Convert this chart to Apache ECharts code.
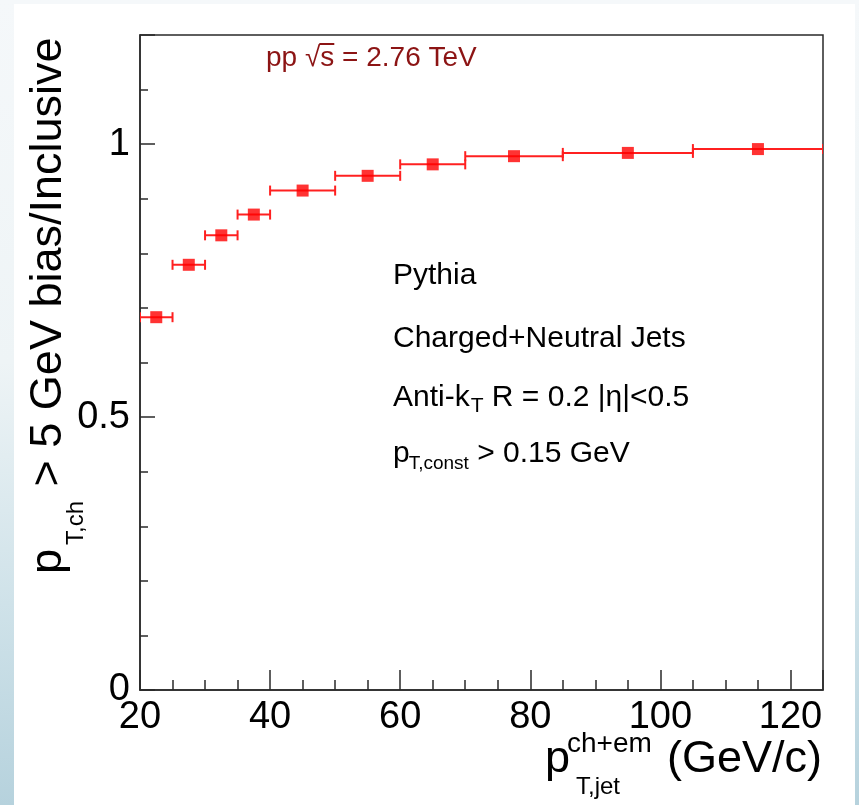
<!DOCTYPE html>
<html>
<head>
<meta charset="utf-8">
<script src="https://cdn.jsdelivr.net/npm/echarts@6/dist/echarts.min.js"></script>
<style>
  html, body { margin: 0; padding: 0; }
  body {
    width: 859px; height: 805px; overflow: hidden; position: relative;
    background: linear-gradient(180deg, #f5f8fa 0%, #eef4f6 45%, #cfe2e9 75%, #b6d2dd 100%);
  }
  #panel { position: absolute; left: 14px; top: 4px; width: 841px; height: 801px; background: #ffffff; }
  #chart { position: absolute; left: 0; top: 0; width: 859px; height: 805px; }
</style>
</head>
<body>
<div id="panel"></div>
<div id="chart"></div>
<script>
// Ratio of jets with a charged-track bias (pT,ch > 5 GeV) to inclusive jets, per jet-pT bin
const binLow    = [20, 25, 30, 35, 40, 50, 60, 70, 85, 105];
const binHigh   = [25, 30, 35, 40, 50, 60, 70, 85, 105, 125];
const binCenter = [22.5, 27.5, 32.5, 37.5, 45, 55, 65, 77.5, 95, 115];
const ratio     = [0.683, 0.779, 0.833, 0.871, 0.915, 0.942, 0.963, 0.978, 0.984, 0.991];

const xTicks = [20, 40, 60, 80, 100, 120];
const yTicks = [0, 0.5, 1];

const FONT = '"Liberation Sans", Arial, Helvetica, sans-serif';
const measureCtx = document.createElement('canvas').getContext('2d');
function textWidth(str, size) {
  measureCtx.font = size + 'px ' + FONT;
  return measureCtx.measureText(str).width;
}
// offset between the canvas "middle" line and the alphabetic baseline, as a fraction of size
const MID = 0.30;
function textAt(str, size, x, baseline, fill) {
  return {
    type: 'text', x: x, y: baseline - MID * size, silent: true,
    style: { text: str, font: size + 'px ' + FONT, fill: fill || '#000', align: 'left', verticalAlign: 'middle' }
  };
}

// Annotation block inside the frame
const annot = [];
const LS = 30;
annot.push(textAt('Pythia', LS, 393, 285));
annot.push(textAt('Charged+Neutral Jets', LS, 393, 348));
(function () {
  let x = 393;
  annot.push(textAt('Anti-k', LS, x, 407)); x += textWidth('Anti-k', LS) + 1;
  annot.push(textAt('T', 21, x, 413)); x += textWidth('T', 21);
  annot.push(textAt(' R = 0.2 |η|<0.5', LS, x, 407));
})();
(function () {
  let x = 393;
  annot.push(textAt('p', LS, x, 463)); x += textWidth('p', LS) - 1;
  annot.push(textAt('T,const', 19, x, 469)); x += textWidth('T,const', 19);
  annot.push(textAt(' > 0.15 GeV', LS, x, 463));
})();

// Collision system label with a bar over "s"
(function () {
  const size = 28, x0 = 266, base = 67, col = '#8c1414';
  annot.push(textAt('pp √s = 2.76 TeV', size, x0, base, col));
  const sx = x0 + textWidth('pp √', size);
  const sw = textWidth('s', size);
  annot.push({ type: 'line', silent: true,
    shape: { x1: sx - 1, y1: base - 23, x2: sx + sw, y2: base - 23 },
    style: { stroke: col, lineWidth: 2 } });
})();

// X-axis title: p^{ch+em}_{T,jet} (GeV/c)
annot.push(textAt('p', 45, 545, 773));
annot.push(textAt('ch+em', 28, 567, 753));
annot.push(textAt('T,jet', 24, 576, 795));
annot.push(textAt('(GeV/c)', 45, 822 - textWidth('(GeV/c)', 45), 773));

// Y-axis title, read bottom-to-top: p_{T,ch} > 5 GeV bias/Inclusive
(function () {
  const kids = [];
  let x = 0;
  kids.push(textAt('p', 45, x, 0)); x += textWidth('p', 45) + 4;
  kids.push(textAt('T,ch', 24, x, 22)); x += textWidth('T,ch', 24) + 2;
  kids.push(textAt(' > 5 GeV bias/Inclusive', 45, x, 0));
  annot.push({ type: 'group', x: 62, y: 574, rotation: Math.PI / 2, children: kids });
})();

const chart = echarts.init(document.getElementById('chart'), null, { renderer: 'canvas' });

const axisLabelStyle = { color: '#000', fontFamily: FONT, fontSize: 38 };

chart.setOption({
  backgroundColor: 'transparent',
  animation: false,
  grid: {
    left: 140, right: 36, top: 35, bottom: 115,
    show: true, borderColor: '#2a2a2a', borderWidth: 1.5, backgroundColor: 'transparent'
  },
  xAxis: {
    type: 'value', min: 20, max: 125, interval: 20,
    axisLine: { show: true, onZero: false, lineStyle: { color: '#2a2a2a', width: 1.5 } },
    axisTick: { show: true, inside: true, length: 20, lineStyle: { color: '#2a2a2a', width: 1.5 } },
    minorTick: { show: true, splitNumber: 4, length: 10, lineStyle: { color: '#2a2a2a', width: 1.5 } },
    splitLine: { show: false },
    axisLabel: Object.assign({
      margin: 9, showMaxLabel: false,
      formatter: v => (xTicks.indexOf(v) >= 0 ? String(v) : '')
    }, axisLabelStyle)
  },
  yAxis: {
    type: 'value', min: 0, max: 1.2, interval: 0.5,
    axisLine: { show: true, onZero: false, lineStyle: { color: '#2a2a2a', width: 1.5 } },
    axisTick: { show: true, inside: true, length: 15, lineStyle: { color: '#2a2a2a', width: 1.5 } },
    minorTick: { show: true, splitNumber: 5, length: 8, lineStyle: { color: '#2a2a2a', width: 1.5 } },
    splitLine: { show: false },
    axisLabel: Object.assign({
      margin: 10, showMaxLabel: false,
      formatter: v => (yTicks.indexOf(v) >= 0 ? String(v) : '')
    }, axisLabelStyle)
  },
  series: [
    {
      // horizontal bin-width bars with end caps
      type: 'custom',
      clip: true,
      data: binLow.map((lo, i) => [lo, binHigh[i], ratio[i]]),
      encode: { x: [0, 1], y: 2 },
      renderItem: function (params, api) {
        const a = api.coord([api.value(0), api.value(2)]);
        const b = api.coord([api.value(1), api.value(2)]);
        const cap = 5;
        const st = { stroke: '#ff2020', lineWidth: 2 };
        return {
          type: 'group',
          children: [
            { type: 'line', shape: { x1: a[0], y1: a[1], x2: b[0], y2: b[1] }, style: st },
            { type: 'line', shape: { x1: a[0], y1: a[1] - cap, x2: a[0], y2: a[1] + cap }, style: st },
            { type: 'line', shape: { x1: b[0], y1: b[1] - cap, x2: b[0], y2: b[1] + cap }, style: st }
          ]
        };
      },
      z: 2
    },
    {
      type: 'scatter',
      data: binCenter.map((x, i) => [x, ratio[i]]),
      symbol: 'rect',
      symbolSize: 12,
      itemStyle: { color: '#ff0000' },
      z: 3
    }
  ],
  graphic: annot
});
</script>
</body>
</html>
